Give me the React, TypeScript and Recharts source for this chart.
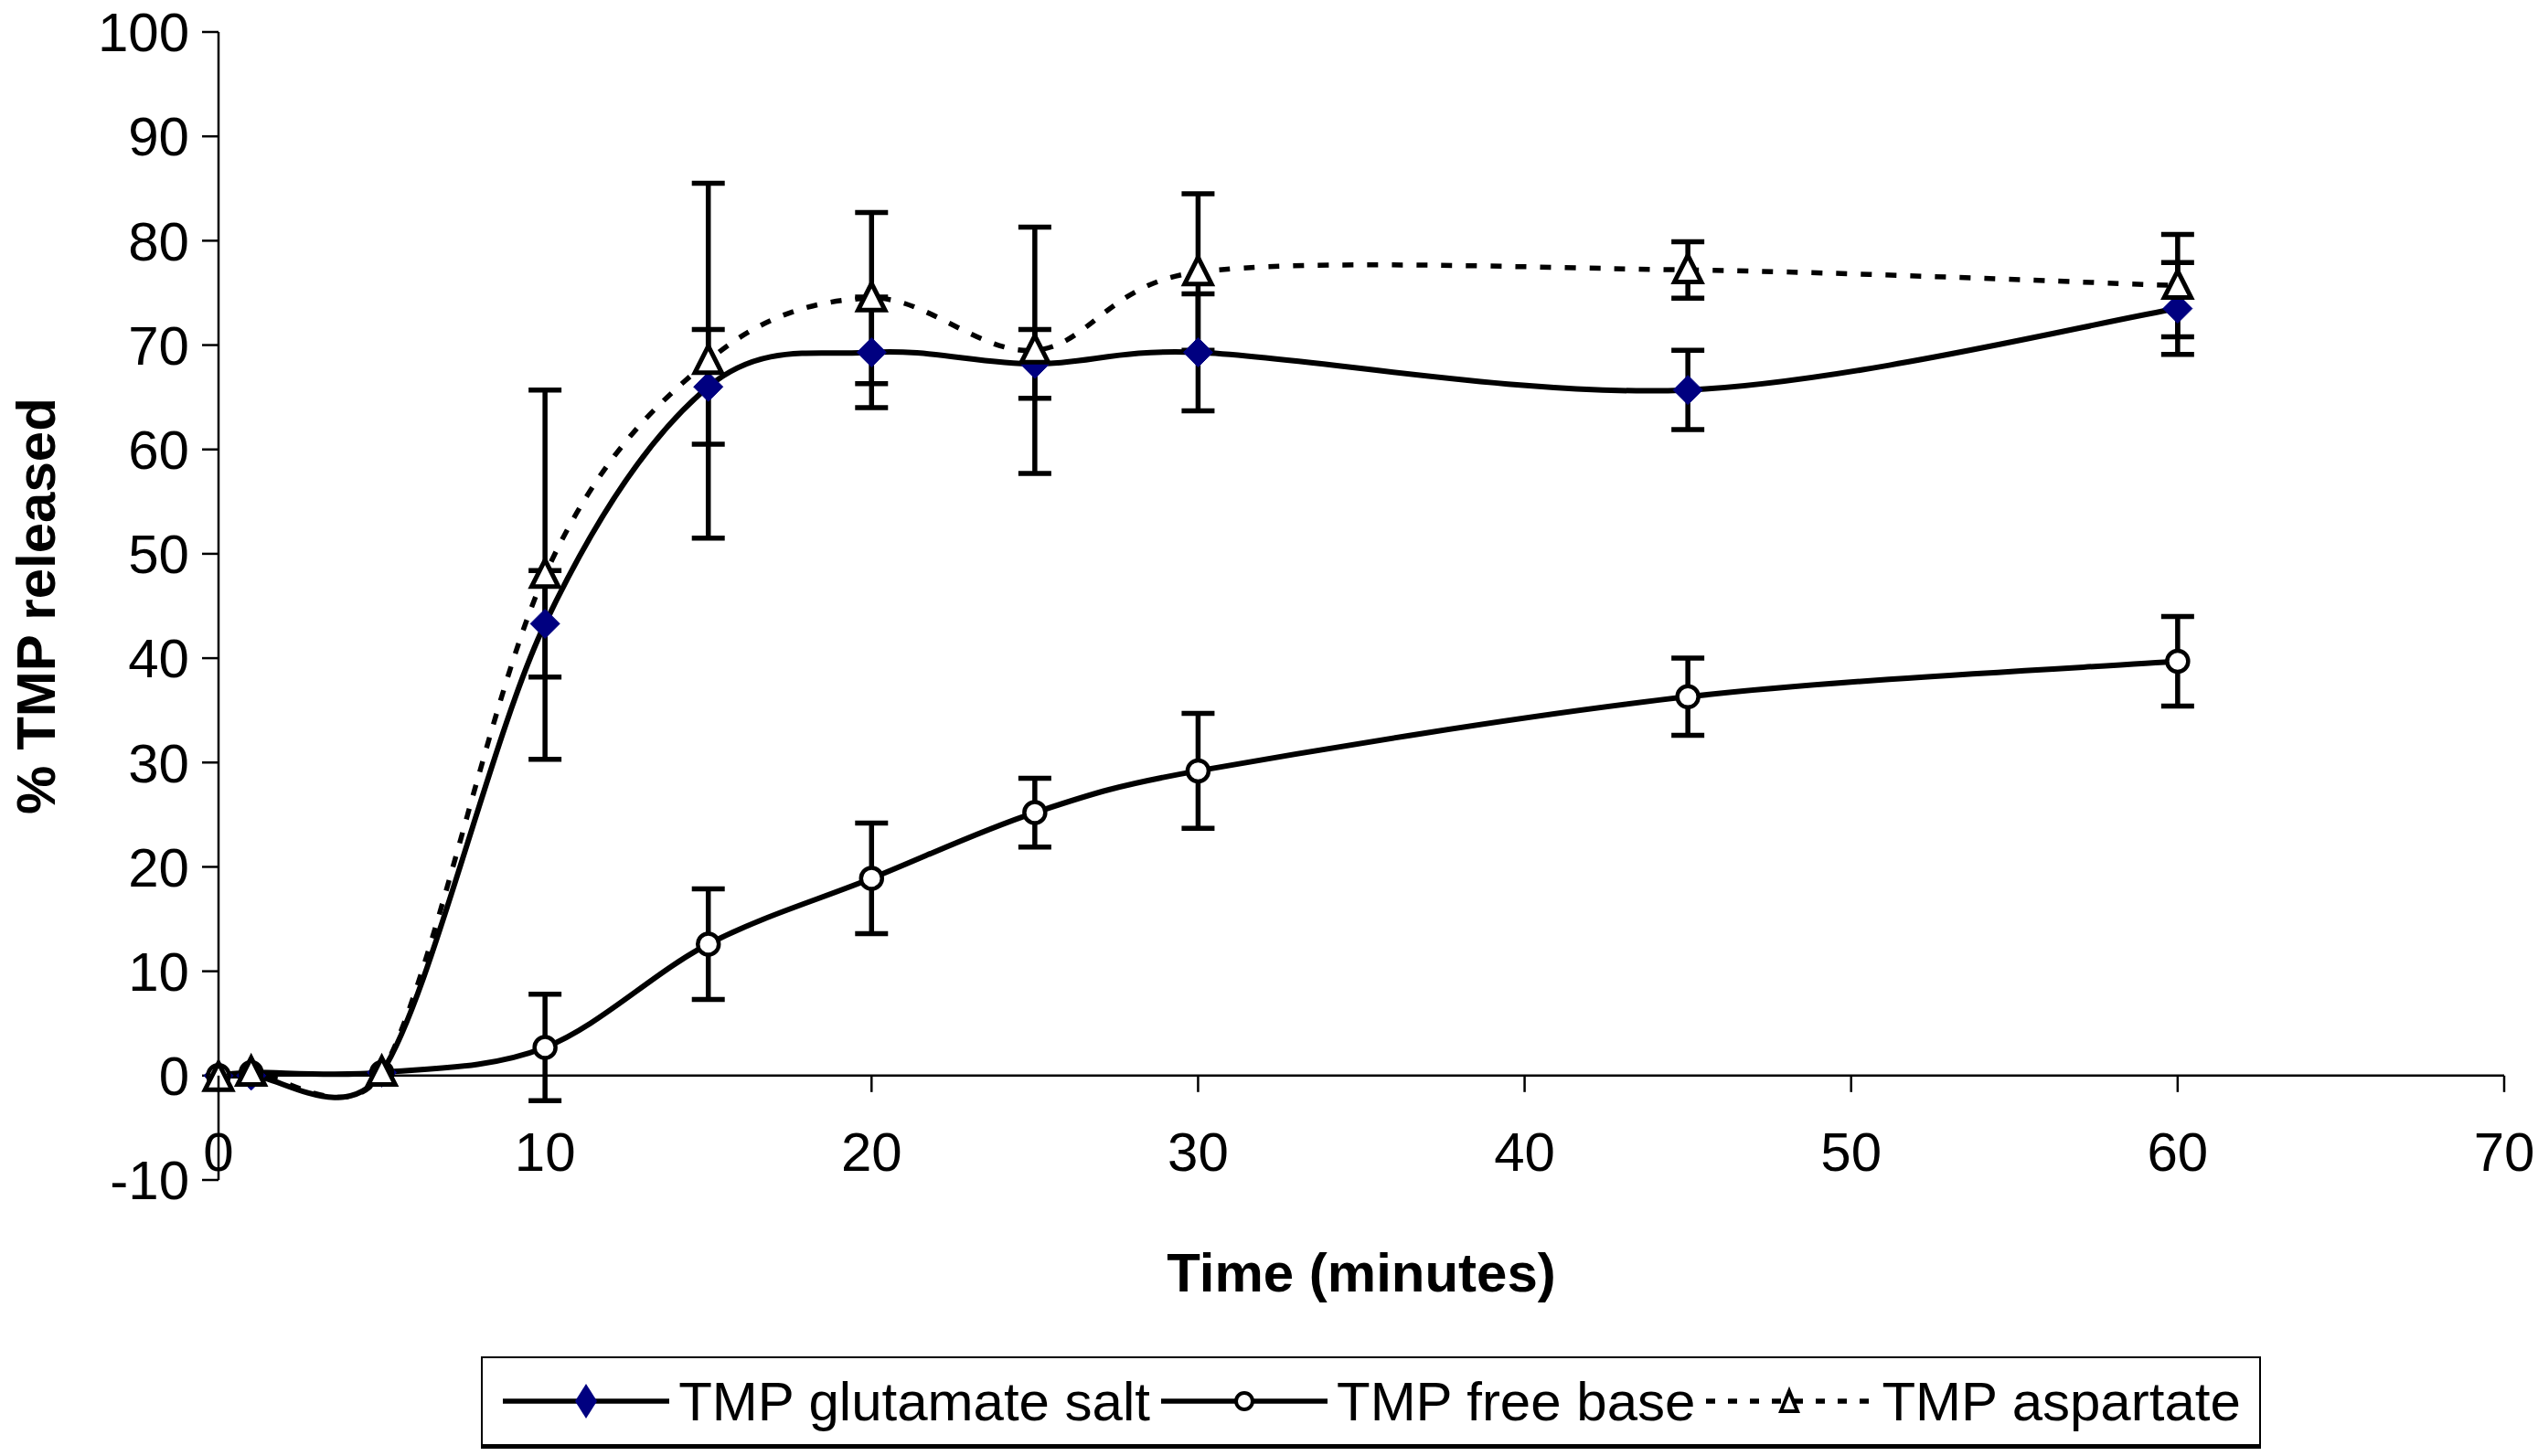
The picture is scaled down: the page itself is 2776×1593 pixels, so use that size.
import { LineChart, Line, XAxis, YAxis, ErrorBar, ReferenceLine, Legend } from "recharts";

// sampling times (minutes)
const times = [0, 1, 5, 10, 15, 20, 25, 30, 45, 60];

// % TMP released
const glutamate = [0, 0, 0.3, 43.3, 66.0, 69.3, 68.2, 69.3, 65.7, 73.5];
const glutamateErr = [null, null, null, 5.1, 5.5, 5.3, 3.3, 5.6, 3.8, 4.4];
const freeBase = [0, 0.3, 0.3, 2.7, 12.6, 18.9, 25.2, 29.2, 36.3, 39.7];
const freeBaseErr = [null, null, null, 5.1, 5.3, 5.3, 3.3, 5.5, 3.7, 4.3];
const aspartate = [-0.2, 0.3, 0.3, 48.0, 68.5, 74.5, 69.5, 77.0, 77.2, 75.7];
const aspartateErr = [null, null, null, 17.7, 17.0, 8.2, 11.8, 7.5, 2.7, 4.9];

const xTicks = [0, 10, 20, 30, 40, 50, 60, 70];
const yTicks = [-10, 0, 10, 20, 30, 40, 50, 60, 70, 80, 90, 100];
const yDomain = [-10, 100];

const legendNames = ["TMP glutamate salt", "TMP free base", "TMP aspartate"];

const rows = times.map((t, i) => ({
  time: t,
  glutamate: glutamate[i],
  glutamateErr: glutamateErr[i],
  freeBase: freeBase[i],
  freeBaseErr: freeBaseErr[i],
  aspartate: aspartate[i],
  aspartateErr: aspartateErr[i],
}));

const W = 2776;
const H = 1593;
const MARGIN = { top: 35, right: 37, bottom: 242, left: 0 };
const X_AXIS_H = 60;
const PLOT_H = H - MARGIN.top - MARGIN.bottom - X_AXIS_H;
// distance from the bottom of the plot (-10) up to the zero line
const ZERO_OFFSET = (PLOT_H * (0 - yDomain[0])) / (yDomain[1] - yDomain[0]);

const FONT = "'Liberation Sans', Arial, sans-serif";
const FS = 60;
const NAVY = "#000080";

// Excel-style smoothed line: bezier with 1/6 handles, clamped to half the segment
function excelSmooth(context: any) {
  let xs: number[] = [];
  let ys: number[] = [];
  const dist = (a: number, b: number) => Math.hypot(xs[b] - xs[a], ys[b] - ys[a]);
  return {
    areaStart() {},
    areaEnd() {},
    lineStart() {
      xs = [];
      ys = [];
    },
    point(x: number, y: number) {
      xs.push(+x);
      ys.push(+y);
    },
    lineEnd() {
      const n = xs.length;
      if (!n) return;
      context.moveTo(xs[0], ys[0]);
      if (n === 2) {
        context.lineTo(xs[1], ys[1]);
        return;
      }
      for (let i = 0; i < n - 1; i++) {
        const p = Math.max(i - 1, 0);
        const q = Math.min(i + 2, n - 1);
        const d12 = dist(i, i + 1);
        const d02 = dist(p, i + 1);
        const d13 = dist(i, q);
        let f1 = 1 / 6;
        let f2 = 1 / 6;
        if (d02 / 6 >= d12 / 2 && d02 > 0) f1 = d12 / (2 * d02);
        if (d13 / 6 >= d12 / 2 && d13 > 0) f2 = d12 / (2 * d13);
        context.bezierCurveTo(
          xs[i] + (xs[i + 1] - xs[p]) * f1,
          ys[i] + (ys[i + 1] - ys[p]) * f1,
          xs[i + 1] - (xs[q] - xs[i]) * f2,
          ys[i + 1] - (ys[q] - ys[i]) * f2,
          xs[i + 1],
          ys[i + 1]
        );
      }
    },
  };
}

function Diamond({ cx, cy, r = 16 }: any) {
  return (
    <polygon
      points={`${cx},${cy - r} ${cx + r},${cy} ${cx},${cy + r} ${cx - r},${cy}`}
      fill={NAVY}
      stroke={NAVY}
      strokeWidth={1}
    />
  );
}

function Ring({ cx, cy, r = 11.5 }: any) {
  return <circle cx={cx} cy={cy} r={r} fill="#fff" stroke="#000" strokeWidth={4.5} />;
}

function Triangle({ cx, cy, r = 16 }: any) {
  return (
    <polygon
      points={`${cx},${cy - r} ${cx + r * 0.92},${cy + r * 0.82} ${cx - r * 0.92},${cy + r * 0.82}`}
      fill="#fff"
      stroke="#000"
      strokeWidth={5}
    />
  );
}

const dotOf = (Shape: any, name: string) => (props: any) => {
  if (props.cx == null || props.cy == null) return <g key={`${name}-${props.index}`} />;
  return <Shape key={`${name}-${props.index}`} cx={props.cx} cy={props.cy} />;
};

function XTick({ x, y, payload }: any) {
  const y0 = y - ZERO_OFFSET;
  return (
    <g>
      <line x1={x} x2={x} y1={y0} y2={y0 + 18} stroke="#000" strokeWidth={2.5} />
      <text
        x={x}
        y={y0 + 84}
        textAnchor="middle"
        dominantBaseline="central"
        fontSize={FS}
        fontFamily={FONT}
        fill="#000"
      >
        {payload.value}
      </text>
    </g>
  );
}

function XTitle({ viewBox }: any) {
  return (
    <text
      x={viewBox.x + viewBox.width / 2}
      y={viewBox.y + 101}
      textAnchor="middle"
      dominantBaseline="central"
      fontSize={FS}
      fontWeight="bold"
      fontFamily={FONT}
      fill="#000"
    >
      Time (minutes)
    </text>
  );
}

function YTitle({ viewBox }: any) {
  const x = 39;
  const y = viewBox.y + viewBox.height / 2;
  return (
    <text
      x={x}
      y={y}
      transform={`rotate(-90 ${x} ${y})`}
      textAnchor="middle"
      dominantBaseline="central"
      fontSize={FS}
      fontWeight="bold"
      fontFamily={FONT}
      fill="#000"
    >
      % TMP released
    </text>
  );
}

function LegendIcon({ kind }: { kind: number }) {
  return (
    <svg width={186} height={46} style={{ display: "block", flex: "none" }}>
      <line
        x1={2}
        x2={184}
        y1={23}
        y2={23}
        stroke="#000"
        strokeWidth={5.5}
        strokeDasharray={kind === 2 ? "10 14" : undefined}
      />
      {kind === 0 && <polygon points="93,4 105,23 93,42 81,23" fill={NAVY} />}
      {kind === 1 && <circle cx={93} cy={23} r={9} fill="#fff" stroke="#000" strokeWidth={4} />}
      {kind === 2 && (
        <polygon points="93,12 102,34 84,34" fill="#fff" stroke="#000" strokeWidth={4} />
      )}
    </svg>
  );
}

function LegendBox() {
  return (
    <div
      style={{
        boxSizing: "border-box",
        width: "100%",
        height: "100%",
        border: "2px solid #000",
        borderBottomWidth: 5,
        background: "#fff",
        display: "flex",
        alignItems: "center",
        justifyContent: "center",
        gap: 10,
        fontFamily: FONT,
        fontSize: FS,
        color: "#000",
        whiteSpace: "nowrap",
      }}
    >
      {legendNames.map((name, i) => (
        <div key={name} style={{ display: "flex", alignItems: "center", gap: 8 }}>
          <LegendIcon kind={i} />
          <span>{name}</span>
        </div>
      ))}
    </div>
  );
}

export default function App() {
  return (
    <div style={{ width: W, height: H, background: "#fff" }}>
      <style>{"body{margin:0}"}</style>
      <LineChart width={W} height={H} data={rows} margin={MARGIN}>
        <XAxis
          dataKey="time"
          type="number"
          domain={[0, 70]}
          ticks={xTicks}
          height={X_AXIS_H}
          axisLine={false}
          tickLine={false}
          tickSize={0}
          tickMargin={0}
          tick={<XTick />}
          label={XTitle}
          interval={0}
        />
        <YAxis
          type="number"
          domain={yDomain}
          ticks={yTicks}
          width={239}
          interval={0}
          axisLine={{ stroke: "#000", strokeWidth: 2.5 }}
          tickLine={{ stroke: "#000", strokeWidth: 2.5 }}
          tickSize={18}
          tickMargin={14}
          tick={{ fontSize: FS, fill: "#000", fontFamily: FONT }}
          label={YTitle}
        />
        <ReferenceLine y={0} stroke="#000" strokeWidth={2.5} />
        <Legend
          layout="horizontal"
          verticalAlign="middle"
          align="center"
          wrapperStyle={{ left: 526, top: 1484, width: 1947, height: 101 }}
          content={<LegendBox />}
        />
        <Line
          dataKey="glutamate"
          name={legendNames[0]}
          type={excelSmooth as any}
          stroke="#000"
          strokeWidth={6}
          dot={dotOf(Diamond, "g")}
          activeDot={false}
          isAnimationActive={false}
        >
          <ErrorBar dataKey="glutamateErr" direction="y" width={18} stroke="#000" strokeWidth={5.5} />
        </Line>
        <Line
          dataKey="freeBase"
          name={legendNames[1]}
          type={excelSmooth as any}
          stroke="#000"
          strokeWidth={6}
          dot={dotOf(Ring, "f")}
          activeDot={false}
          isAnimationActive={false}
        >
          <ErrorBar dataKey="freeBaseErr" direction="y" width={18} stroke="#000" strokeWidth={5.5} />
        </Line>
        <Line
          dataKey="aspartate"
          name={legendNames[2]}
          type={excelSmooth as any}
          stroke="#000"
          strokeWidth={5.5}
          strokeDasharray="12 15"
          dot={dotOf(Triangle, "a")}
          activeDot={false}
          isAnimationActive={false}
        >
          <ErrorBar dataKey="aspartateErr" direction="y" width={18} stroke="#000" strokeWidth={5.5} />
        </Line>
      </LineChart>
    </div>
  );
}
